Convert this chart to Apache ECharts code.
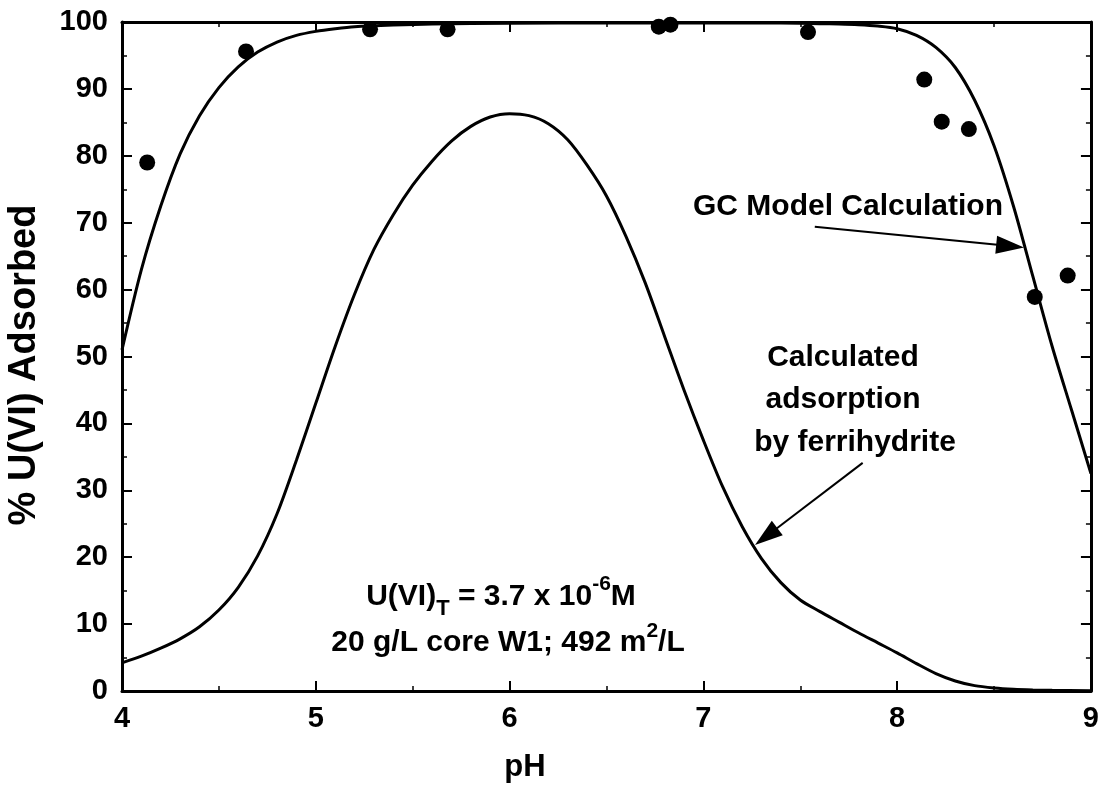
<!DOCTYPE html>
<html>
<head>
<meta charset="utf-8">
<script src="https://cdn.jsdelivr.net/npm/echarts@6/dist/echarts.min.js"></script>
<style>html,body{margin:0;padding:0;background:#fff}#c{width:1102px;height:790px}</style>
</head>
<body>
<div id="c"></div>
<script>
// Measured data points (pH, % adsorbed)
const obsPH  = [4.13, 4.64, 5.28, 5.68, 6.77, 6.83, 7.54, 8.14, 8.23, 8.37, 8.71, 8.88];
const obsPct = [79.0, 95.6, 98.9, 98.9, 99.3, 99.6, 98.5, 91.4, 85.1, 84.0, 58.9, 62.1];

// GC model calculation curve
const gcPH  = [4.0, 4.1, 4.2, 4.3, 4.4, 4.5, 4.6, 4.7, 4.8, 4.9, 5.0, 5.1, 5.2, 5.4, 5.6, 6.0, 6.5, 7.0, 7.3, 7.5, 7.6, 7.7, 7.8, 7.9, 8.0, 8.1, 8.2, 8.3, 8.4, 8.5, 8.6, 8.7, 8.8, 8.9, 9.0];
const gcPct = [51, 63, 72.5, 80.3, 86.0, 90.2, 93.3, 95.5, 97.0, 98.0, 98.6, 99.0, 99.3, 99.55, 99.7, 99.8, 99.85, 99.85, 99.85, 99.8, 99.75, 99.7, 99.6, 99.4, 99.0, 98.0, 96.2, 93.2, 88.3, 81.5, 72.5, 62.0, 51.5, 42.0, 32.5];

// Calculated adsorption by ferrihydrite
const fhPH  = [4.0, 4.1, 4.2, 4.3, 4.4, 4.5, 4.6, 4.7, 4.8, 4.9, 5.0, 5.1, 5.2, 5.3, 5.4, 5.5, 5.6, 5.7, 5.8, 5.9, 6.0, 6.1, 6.2, 6.3, 6.4, 6.5, 6.6, 6.7, 6.8, 6.9, 7.0, 7.1, 7.2, 7.3, 7.4, 7.5, 7.6, 7.7, 7.8, 7.9, 8.0, 8.1, 8.2, 8.3, 8.4, 8.5, 8.6, 8.7, 8.8, 9.0];
const fhPct = [4.2, 5.2, 6.4, 7.8, 9.6, 12.1, 15.5, 20.2, 26.5, 34.5, 43, 51.5, 59.3, 66, 71.2, 75.6, 79.2, 82.2, 84.4, 85.8, 86.3, 86.0, 84.8, 82.4, 78.6, 74, 68, 61, 53, 45, 37.5, 30.5, 24.6, 19.8, 16.2, 13.6, 11.9, 10.3, 8.7, 7.2, 5.7, 4.1, 2.6, 1.5, 0.8, 0.45, 0.25, 0.15, 0.1, 0.05];

// Axis ticks
const xMin = 4, xMax = 9, xStep = 1;
const yMin = 0, yMax = 100, yStep = 10;

// Annotation arrows (data coordinates: [pH, %])
const gcArrow = [[7.575, 69.4], [8.583, 66.5]];
const fhArrow = [[7.822, 34.1], [7.324, 23.1]];

const zip = (a, b) => a.map((v, i) => [v, b[i]]);
const FONT = '"Liberation Sans", Arial, sans-serif';

const chart = echarts.init(document.getElementById('c'), null, {renderer: 'canvas'});

const axisCommon = {
  axisLine: {show: true, onZero: false, lineStyle: {color: '#000', width: 3}},
  axisTick: {show: true, inside: true, length: 10, lineStyle: {color: '#000', width: 2}},
  minorTick: {show: true, splitNumber: 2, length: 5, lineStyle: {color: '#000', width: 1.5}},
  splitLine: {show: false}
};

const txt = (x, y, s, size) => ({type: 'text', x: x, y: y, style: {text: s, fill: '#000', font: 'bold ' + size + 'px ' + FONT, textAlign: 'center', textVerticalAlign: 'middle'}});

chart.setOption({
  animation: false,
  backgroundColor: '#fff',
  grid: {left: 122, right: 8, top: 22, bottom: 99, containLabel: false},
  xAxis: [
    Object.assign({
      type: 'value', min: xMin, max: xMax, interval: xStep, position: 'bottom',
      axisLabel: {color: '#000', fontFamily: FONT, fontWeight: 'bold', fontSize: 29, margin: 13}
    }, axisCommon),
    Object.assign({
      type: 'value', min: xMin, max: xMax, interval: xStep, position: 'top',
      axisLabel: {show: false}
    }, axisCommon)
  ],
  yAxis: [
    Object.assign({
      type: 'value', min: yMin, max: yMax, interval: yStep, position: 'left',
      axisLabel: {color: '#000', fontFamily: FONT, fontWeight: 'bold', fontSize: 29, margin: 14}
    }, axisCommon),
    Object.assign({
      type: 'value', min: yMin, max: yMax, interval: yStep, position: 'right',
      axisLabel: {show: false}
    }, axisCommon)
  ],
  series: [
    {
      type: 'line', name: 'GC', data: zip(gcPH, gcPct), smooth: 0.3, showSymbol: false,
      lineStyle: {color: '#000', width: 3}, z: 3,
      markLine: {
        silent: true, symbol: ['none', 'triangle'], symbolSize: [18, 28],
        itemStyle: {color: '#000'},
        lineStyle: {color: '#000', width: 2, type: 'solid'}, label: {show: false},
        data: [[{coord: gcArrow[0]}, {coord: gcArrow[1]}], [{coord: fhArrow[0]}, {coord: fhArrow[1]}]]
      }
    },
    {
      type: 'line', name: 'Ferrihydrite', data: zip(fhPH, fhPct), smooth: 0.3, showSymbol: false,
      lineStyle: {color: '#000', width: 3}, z: 3
    },
    {
      type: 'scatter', name: 'Data', data: zip(obsPH, obsPct), symbol: 'circle', symbolSize: 16,
      itemStyle: {color: '#000', opacity: 1}, z: 4
    }
  ],
  graphic: [
    {type: 'text', x: 25, y: 365, rotation: Math.PI / 2, style: {text: '% U(VI) Adsorbed', fill: '#000', font: 'bold 38px ' + FONT, textAlign: 'center', textVerticalAlign: 'middle'}},
    txt(525, 767, 'pH', 31),
    txt(848, 207, 'GC Model Calculation', 30),
    txt(843, 358, 'Calculated', 30),
    txt(843, 400, 'adsorption', 30),
    txt(855, 443, 'by ferrihydrite', 30),
    {type: 'text', x: 501, y: 597, style: {
      text: '{n|U(VI)}{sub|T}{n| = 3.7 x 10}{sup|-6}{n|M}', textAlign: 'center', textVerticalAlign: 'middle',
      rich: {
        n: {fill: '#000', fontFamily: FONT, fontWeight: 'bold', fontSize: 30, lineHeight: 46, verticalAlign: 'middle'},
        sub: {fill: '#000', fontFamily: FONT, fontWeight: 'bold', fontSize: 22, lineHeight: 22, verticalAlign: 'bottom'},
        sup: {fill: '#000', fontFamily: FONT, fontWeight: 'bold', fontSize: 21, lineHeight: 21, verticalAlign: 'top'}
      }
    }},
    {type: 'text', x: 508, y: 643, style: {
      text: '{n|20 g/L core W1; 492 m}{sup|2}{n|/L}', textAlign: 'center', textVerticalAlign: 'middle',
      rich: {
        n: {fill: '#000', fontFamily: FONT, fontWeight: 'bold', fontSize: 30, lineHeight: 44, verticalAlign: 'middle'},
        sup: {fill: '#000', fontFamily: FONT, fontWeight: 'bold', fontSize: 21, lineHeight: 21, verticalAlign: 'top'}
      }
    }}
  ]
});
</script>
</body>
</html>
